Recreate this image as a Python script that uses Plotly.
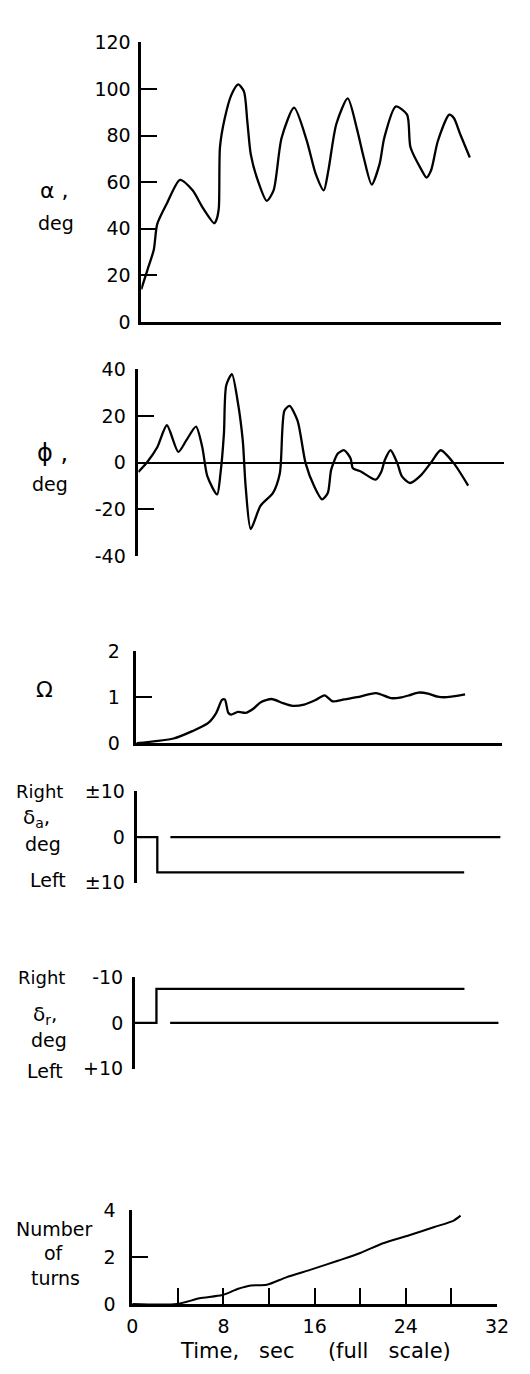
import plotly.graph_objects as go

# ---------------- data ----------------
alpha_t = [0, 0.56, 1.1, 1.4, 2.26, 3.4, 4.5, 5.4, 6.4, 6.6, 6.8, 6.9, 7.3, 7.9, 8.5, 9.0, 9.3, 9.6,
           10.2, 11.0, 11.6, 12.3, 13.4, 14.5, 15.3, 16.0, 16.4, 17.1, 18.1, 18.9, 19.5, 20.2,
           20.9, 21.3, 22.3, 23.3, 23.6, 24.6, 25.0, 25.4, 26.0, 27.0, 27.4, 27.97, 28.8]
alpha_deg = [14, 22.6, 31, 42, 51, 61, 56.5, 49, 42.4, 44, 49, 75, 87, 97.5, 102, 99, 86, 72,
             61, 52, 56.5, 79, 92, 78, 63.5, 56.5, 65, 85, 96, 83, 70.6, 59,
             68, 79, 92.5, 89, 75, 65, 62, 65, 77.7, 89, 87.6, 80.5, 70.6]

phi_t = [0, 0.8, 1.67, 2.5, 3.5, 4.2, 5.05, 5.6, 6.05, 6.9, 7.2, 7.5, 7.7, 8.2, 8.7, 9.15, 9.4,
         9.85, 10.7, 11.8, 12.4, 12.8, 13.25, 13.95, 14.66, 15.4, 16.1, 16.6, 16.9, 17.5, 18.05,
         18.6, 18.8, 19.5, 20.8, 21.3, 21.6, 22.1, 22.7, 23.1, 23.8, 24.8, 25.7, 26.5, 27.65, 28.9]
phi_deg = [-4, 0.4, 6.7, 16, 4.6, 9.5, 15.4, 6.7, -5.9, -13.6, -4.5, 12.4, 33, 37.9, 26.4, 9.5, -10,
           -28.4, -18.5, -12.9, -4.5, 22.2, 24.3, 18, -0.3, -10, -15.7, -13, -3, 4, 5.3,
           1.8, -2.4, -3.8, -7.3, -3.8, 1.1, 5.3, -0.3, -5.9, -8.7, -5.2, 0.4, 5.3, -0.3, -9.8]

omega_t = [0, 3.25, 4.9, 6.3, 7.0, 7.5, 7.75, 8.05, 8.3, 8.9, 9.6, 10.3, 10.9, 11.85, 12.85, 13.7,
           14.7, 15.7, 16.5, 17.2, 18.2, 19.35, 21.0, 22.3, 23.1, 23.9, 24.7, 25.55, 26.4, 27.2, 28.8]
omega_val = [0, 0.1, 0.26, 0.44, 0.66, 0.94, 0.95, 0.66, 0.62, 0.68, 0.66, 0.76, 0.89, 0.96, 0.87, 0.81,
             0.84, 0.94, 1.04, 0.91, 0.95, 1.0, 1.09, 0.98, 0.99, 1.04, 1.1, 1.08, 1.01, 1.0, 1.06]

da_t = [0, 1.75, 1.75, 28.7]
da_deg = [0, 0, -7.7, -7.7]
da_ref_t = [2.9, 31.9]
da_ref = [0, 0]

dr_t = [0, 1.9, 1.9, 28.9]
dr_deg = [0, 0, -7.4, -7.4]
dr_ref_t = [3.1, 31.9]
dr_ref = [0, 0]

turns_t = [0, 3.9, 5.9, 7.9, 9.3, 10.4, 11.8, 13.5, 15.8, 18.1, 20.0, 22.0, 24.3, 26.5, 28.2, 28.8]
turns_n = [0, 0, 0.24, 0.38, 0.65, 0.79, 0.82, 1.14, 1.49, 1.86, 2.18, 2.6, 2.94, 3.29, 3.57, 3.78]

alpha_ticks = [0, 20, 40, 60, 80, 100, 120]
phi_ticks = [-40, -20, 0, 20, 40]
omega_ticks = [0, 1, 2]
da_ticks = [-10, 0, 10]
da_ticktext = ["±10", "0", "±10"]
dr_ticks = [-10, 0, 10]
dr_ticktext = ["-10", "0", "+10"]
turns_ticks = [0, 2, 4]

# ---------------- layout helpers ----------------
W, H = 530, 1374
FONT = "DejaVu Sans"
TICKSIZE = 19
AXW = 2.5


def fx(x):
    return x / W


def fy(y):
    return 1 - y / H


fig = go.Figure()


def add(t, v, ax, width=2.3, shape="spline"):
    fig.add_trace(go.Scatter(x=t, y=v, mode="lines", xaxis="x" + ax, yaxis="y" + ax,
                             line=dict(color="black", width=width, shape=shape, smoothing=0.7),
                             hoverinfo="skip", showlegend=False))


add(alpha_t, alpha_deg, "")
add(phi_t, phi_deg, "2")
add(omega_t, omega_val, "3")
add(da_t, da_deg, "4", shape="linear")
add(da_ref_t, da_ref, "4", shape="linear")
add(dr_t, dr_deg, "5", shape="linear")
add(dr_ref_t, dr_ref, "5", shape="linear")
add(turns_t, turns_n, "6", width=2)


def xax(x0, x1, rng, anchor, showline=True, **kw):
    d = dict(domain=[fx(x0), fx(x1)], range=rng, anchor=anchor, showline=showline,
             linecolor="black", linewidth=AXW, showgrid=False, zeroline=False,
             showticklabels=False, ticks="", fixedrange=True)
    d.update(kw)
    return d


def yax(y0, y1, rng, anchor, tickvals, ticktext=None, standoff=6, **kw):
    d = dict(domain=[fy(y1), fy(y0)], range=rng, anchor=anchor, showline=True,
             linecolor="black", linewidth=AXW, showgrid=False, zeroline=False,
             ticks="inside", ticklen=16, tickwidth=2, tickcolor="black",
             tickvals=tickvals, ticktext=ticktext if ticktext else [str(v) for v in tickvals],
             ticklabelstandoff=standoff, tickfont=dict(size=TICKSIZE, family=FONT, color="black"),
             fixedrange=True)
    d.update(kw)
    return d


layout = dict(
    width=W, height=H, margin=dict(l=0, r=0, t=0, b=0),
    paper_bgcolor="white", plot_bgcolor="white",
    font=dict(family=FONT, size=18, color="black"),
    showlegend=False,
    xaxis=xax(140, 512, [0, 31.5], "y"),
    yaxis=yax(32, 316, [0, 120], "x", alpha_ticks, standoff=4),
    xaxis2=xax(137, 515, [0, 32], "y2", showline=False),
    yaxis2=yax(364, 554, [-40, 40], "x2", phi_ticks, standoff=6,
               zeroline=True, zerolinecolor="black", zerolinewidth=2),
    xaxis3=xax(135, 513, [0, 32], "y3"),
    yaxis3=yax(650.7, 744, [0, 2], "x3", omega_ticks, standoff=10),
    xaxis4=xax(136, 512, [0, 31.9], "y4", showline=False),
    yaxis4=yax(793, 886, [-10, 10], "x4", da_ticks, da_ticktext, standoff=6),
    xaxis5=xax(133.3, 510, [0, 31.9], "y5", showline=False),
    yaxis5=yax(981.7, 1075, [10, -10], "x5", dr_ticks, dr_ticktext, standoff=5),
    xaxis6=xax(130.7, 508.3, [0, 32], "y6", showticklabels=True, ticks="inside",
               ticklen=16, tickwidth=2, tickcolor="black", tickmode="linear", tick0=0, dtick=8,
               minor=dict(ticks="inside", ticklen=16, tickwidth=2, tickcolor="black",
                          tickmode="linear", tick0=0, dtick=4, showgrid=False),
               ticklabelstandoff=3,
               tickfont=dict(size=TICKSIZE, family=FONT, color="black")),
    yaxis6=yax(1219, 1314, [0, 4], "x6", turns_ticks, standoff=10),
)

NB = "\u00a0"
labels = [
    ("α" + NB + ",", 50, 182, 22), ("deg", 52, 215, 19),
    ("ϕ" + NB + ",", 48, 449, 24), ("deg", 46, 481, 19),
    ("Ω", 40, 690, 22),
    ("Right", 35, 793, 18), ("δ<sub>a</sub>,", 32, 820, 20), ("deg", 38, 847, 19), ("Left", 43, 883, 19),
    ("Right", 37, 982, 18), ("δ<sub>r</sub>,", 40, 1020, 20), ("deg", 45, 1046, 19), ("Left", 40, 1077, 19),
    ("Number", 50, 1238, 19), ("of", 50, 1262, 19), ("turns", 51, 1288, 19),
    ("Time," + NB * 3 + "sec" + NB * 5 + "(full" + NB * 3 + "scale)", 320, 1362, 21),
]
anns = []
for text, x, y, size in labels:
    anns.append(dict(text=text, x=fx(x), y=fy(y), xref="paper", yref="paper",
                     showarrow=False, xanchor="center", yanchor="middle",
                     font=dict(family=FONT, size=size, color="black")))
layout["annotations"] = anns

fig.update_layout(**layout)
fig.write_html("out.html")
